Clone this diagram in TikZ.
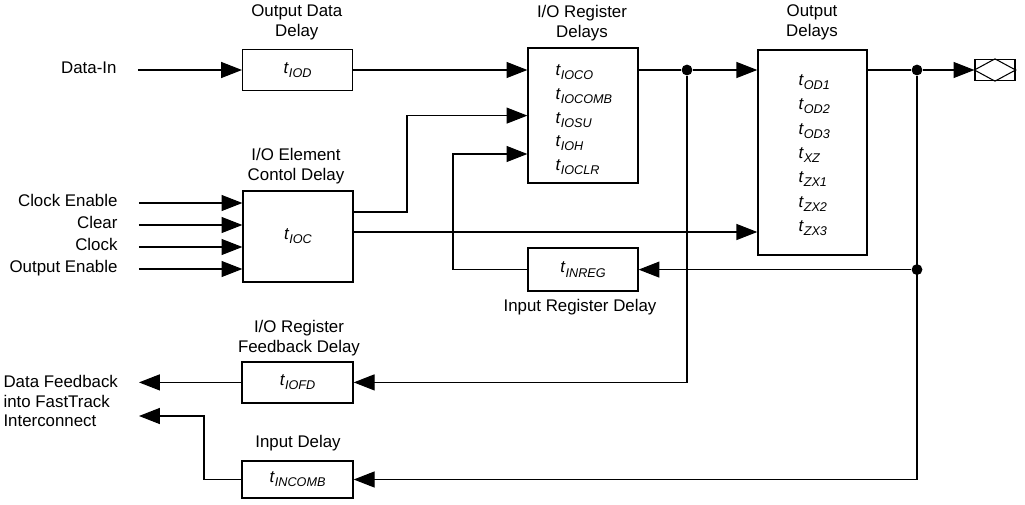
\documentclass[tikz,border=0pt]{standalone}
\usepackage{fontspec}
\setmainfont{Liberation Sans}
\usepackage{tikz}
\usetikzlibrary{arrows.meta, positioning, calc}

\newcommand{\tdel}[1]{\textit{t}\raisebox{-0.45ex}{\fontsize{9}{10}\selectfont\textit{#1}}}

\begin{document}
\begin{tikzpicture}[font=\fontsize{12}{14.2}\selectfont, line width=0.75pt,
  delaybox/.style={draw, line width=0.9pt, minimum width=2.75cm, inner sep=0pt},
  arr/.style={-{Triangle[length=0.52cm, width=0.4cm]}},
  sig/.style={inner sep=0pt, text height=0.72em, text depth=0.2em},
  title/.style={align=center, inner sep=0pt},
  dot/.style={circle, fill, inner sep=0pt, minimum size=0.27cm}]
\useasboundingbox (0, 0) rectangle (25.625, 12.6);

% Output Data Delay
\node[delaybox, minimum height=1.02cm] (iod) at (7.44, 10.85) {\tdel{IOD}};
\node[title] (iodtitle) at (7.42, 12.03) {Output Data\\Delay};
\node[sig, anchor=east] (datain) at (2.925, 10.85) {Data-In};
\draw[arr] ([xshift=0.52cm]datain.east) -- (iod.west);

% I/O Register Delays
\node[delaybox, minimum height=3.375cm] (reg) at (14.575, 9.71) {};
\node[title] (regtitle) at (14.55, 12.03) {I/O Register\\Delays};
\foreach \d [count=\i] in {IOCO, IOCOMB, IOSU, IOH, IOCLR}
  \node[sig, anchor=west] (regt\i) at (13.875, {10.8-0.594*(\i-1)}) {\tdel{\d}};
\draw[arr] (iod.east) -- (iod.east -| reg.west);

% Output Delays
\node[delaybox, minimum width=2.725cm, minimum height=5.125cm] (outd) at (20.31, 8.79) {};
\node[title] (outdtitle) at (20.3, 12.03) {Output\\Delays};
\foreach \d [count=\i] in {OD1, OD2, OD3, XZ, ZX1, ZX2, ZX3}
  \node[sig, anchor=west] (outt\i) at (19.95, {10.55-0.608*(\i-1)}) {\tdel{\d}};

% Junctions and pin
\node[dot] (j1) at (17.175, 10.85) {};
\node[dot] (j2) at (22.925, 10.85) {};
\node[draw, line width=0.9pt, minimum width=1cm, minimum height=0.525cm, inner sep=0pt] (pin) at (24.875, 10.85) {};
\draw (pin.west) -- (pin.north) -- (pin.east) -- (pin.south) -- cycle;
\draw (reg.east |- j1) -- (j1);
\draw[arr] (j1) -- (j1 -| outd.west);
\draw (outd.east |- j2) -- (j2);
\draw[arr] (j2) -- (pin.west);

% I/O Element Control Delay
\node[delaybox, minimum height=2.275cm] (ioc) at (7.45, 6.69) {\tdel{IOC}};
\node[title] (ioctitle) at (7.4, 8.45) {I/O Element\\Contol Delay};
\foreach \lbl [count=\i] in {Clock Enable, Clear, Clock, Output Enable} {
  \node[sig, anchor=east] (in\i) at (2.95, {7.525-0.55*(\i-1)}) {\lbl};
  \draw[arr] ([xshift=0.52cm]in\i.east) -- (in\i.east -| ioc.west);
}
\coordinate (bendA) at (10.175, 7.3);
\draw[arr] (ioc.east |- bendA) -- (bendA) |- (reg.west);
\draw[arr] ([yshift=0.11cm]ioc.east) -- ([yshift=0.11cm]ioc.east -| outd.west);

% Input Register Delay
\node[delaybox, minimum height=1.075cm] (inreg) at (14.575, 5.86) {\tdel{INREG}};
\node[title] (inregtitle) at (14.5, 4.925) {Input Register Delay};
\node[dot] (j3) at (j2 |- inreg.east) {};
\coordinate (bendB) at (11.325, 8.75);
\draw[arr] (inreg.west) -| (bendB) -- (bendB -| reg.west);
\draw[arr] (j3) -- (inreg.east);

% I/O Register Feedback Delay
\node[delaybox, minimum width=2.775cm, minimum height=1.025cm] (iofd) at (7.44, 3.04) {\tdel{IOFD}};
\node[title] (iofdtitle) at (7.475, 4.15) {I/O Register\\Feedback Delay};
\draw[arr] (j1) |- (iofd.east);

% Input Delay
\node[delaybox, minimum width=2.775cm, minimum height=0.925cm] (incomb) at (7.44, 0.6125) {\tdel{INCOMB}};
\node[title] (incombtitle) at (7.45, 1.525) {Input Delay};
\draw[arr] (j2) |- (incomb.east);

% Feedback into FastTrack
\node[title, align=left, anchor=west] (fbtext) at (0.075, 2.575) {Data Feedback\\into FastTrack\\Interconnect};
\coordinate (fbA) at (3.475, 3.04);
\coordinate (fbB) at (3.475, 2.2);
\coordinate (bendC) at (5.1, 2.2);
\draw[arr] (iofd.west) -- (iofd.west -| fbA);
\draw[arr] (incomb.west) -| (bendC) -- (fbB);
\end{tikzpicture}
\end{document}
